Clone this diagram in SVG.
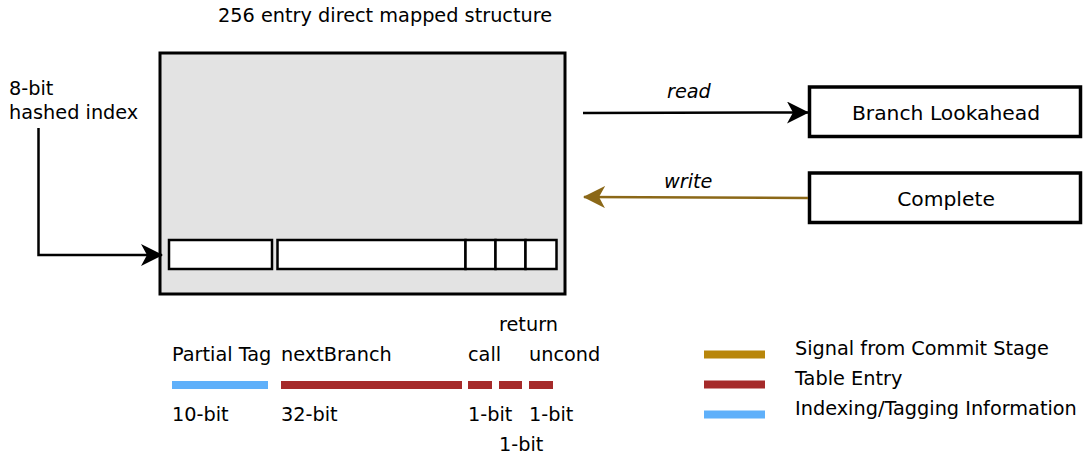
<svg xmlns="http://www.w3.org/2000/svg" width="1083" height="454" viewBox="0 0 1083 454">
  <style>
    text { font-family: "DejaVu Sans", sans-serif; font-size: 19.3px; fill: #000; }
    .it { font-style: italic; }
    .lbl { font-size: 20.3px; }
    .box { fill: #fff; stroke: #000; stroke-width: 3.5; }
    .cell { fill: #fff; stroke: #000; stroke-width: 2.5; }
    .bar { stroke-width: 8; fill: none; }
    .blue { stroke: #5fb0fa; }
    .red { stroke: #a52a2a; }
    .gold { stroke: #b8860b; }
  </style>
  <defs>
    <marker id="arrBlack" viewBox="0 0 22 22" refX="21" refY="11" markerWidth="22" markerHeight="22" markerUnits="userSpaceOnUse" orient="auto">
      <path d="M0,0 L22,11 L0,22 L6,11 Z" fill="#000"/>
    </marker>
    <marker id="arrBrown" viewBox="0 0 22 22" refX="21" refY="11" markerWidth="22" markerHeight="22" markerUnits="userSpaceOnUse" orient="auto">
      <path d="M0,0 L22,11 L0,22 L6,11 Z" fill="#8b6818"/>
    </marker>
  </defs>

  <text x="218" y="22">256 entry direct mapped structure</text>

  <!-- table structure -->
  <g id="table">
    <rect x="160" y="53" width="405" height="241" fill="#e3e3e3" stroke="#000" stroke-width="3"/>
    <rect class="cell" x="169" y="240" width="103" height="29"/>
    <rect class="cell" x="277.5" y="240" width="188" height="29"/>
    <rect class="cell" x="465.5" y="240" width="30" height="29"/>
    <rect class="cell" x="495.5" y="240" width="30" height="29"/>
    <rect class="cell" x="525.5" y="240" width="31" height="29"/>
  </g>

  <g id="index-label">
    <text x="9" y="95">8-bit</text>
    <text x="9" y="119">hashed index</text>
  </g>

  <g id="branch-lookahead">
    <rect class="box" x="809.5" y="87" width="271" height="49.5"/>
    <text class="lbl" x="946" y="120" text-anchor="middle">Branch Lookahead</text>
  </g>

  <g id="complete">
    <rect class="box" x="809.5" y="173" width="271" height="49.5"/>
    <text class="lbl" x="946" y="205.5" text-anchor="middle">Complete</text>
  </g>

  <!-- connectors -->
  <g id="connectors" fill="none" stroke-width="2.5">
    <path d="M38.5,128 V255 H162" stroke="#000" marker-end="url(#arrBlack)"/>
    <path d="M583,113 L808,112.5" stroke="#000" marker-end="url(#arrBlack)"/>
    <path d="M808,198 L584,197" stroke="#8b6818" marker-end="url(#arrBrown)"/>
    <text class="it" x="667" y="98" stroke="none">read</text>
    <text class="it" x="664" y="188" stroke="none">write</text>
  </g>

  <!-- field breakdown -->
  <g id="fields">
    <text x="499" y="331">return</text>
    <text x="172" y="361">Partial Tag</text>
    <text x="281" y="361">nextBranch</text>
    <text x="468" y="361">call</text>
    <text x="529" y="361">uncond</text>
    <line class="bar blue" x1="172" y1="385" x2="268" y2="385"/>
    <line class="bar red" x1="281" y1="385" x2="462" y2="385"/>
    <line class="bar red" x1="468" y1="385" x2="492" y2="385"/>
    <line class="bar red" x1="499" y1="385" x2="522" y2="385"/>
    <line class="bar red" x1="529" y1="385" x2="553" y2="385"/>
    <text x="172" y="421">10-bit</text>
    <text x="281" y="421">32-bit</text>
    <text x="468" y="421">1-bit</text>
    <text x="529" y="421">1-bit</text>
    <text x="499" y="451">1-bit</text>
  </g>

  <!-- legend -->
  <g id="legend">
    <line class="bar gold" x1="704" y1="354.5" x2="765" y2="354.5"/>
    <line class="bar red" x1="704" y1="384.5" x2="765" y2="384.5"/>
    <line class="bar blue" x1="704" y1="414.5" x2="765" y2="414.5"/>
    <text x="795" y="355">Signal from Commit Stage</text>
    <text x="795" y="385">Table Entry</text>
    <text x="795" y="415">Indexing/Tagging Information</text>
  </g>
</svg>
